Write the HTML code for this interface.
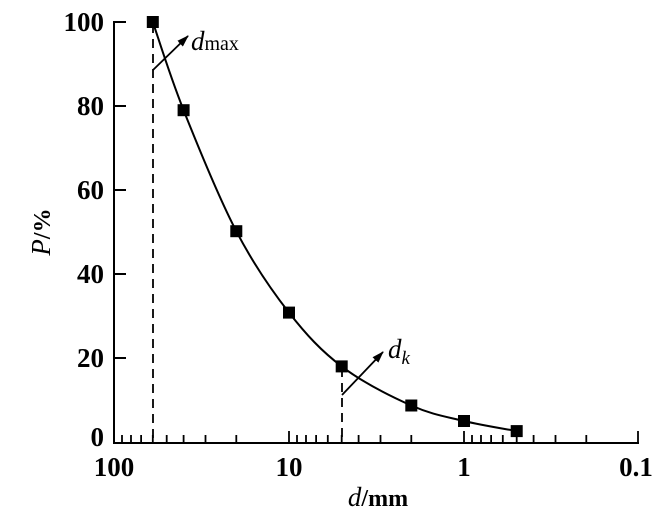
<!DOCTYPE html>
<html><head><meta charset="utf-8"><style>body{margin:0;background:#fff}svg{display:block}text{font-family:"Liberation Serif",serif;fill:#000}</style></head><body>
<svg width="670" height="519" viewBox="0 0 670 519">
<defs><marker id="ar" markerWidth="12" markerHeight="8" refX="11" refY="4" orient="auto" markerUnits="userSpaceOnUse"><path d="M0,0 L12,4 L0,8 z" fill="#000"/></marker></defs>
<g stroke="#000" stroke-width="2" fill="none">
<line x1="114" y1="21" x2="114" y2="443"/>
<line x1="113" y1="443" x2="639" y2="443"/>
<line x1="114" y1="22" x2="126" y2="22"/><line x1="114" y1="106" x2="126" y2="106"/><line x1="114" y1="190" x2="126" y2="190"/><line x1="114" y1="274" x2="126" y2="274"/><line x1="114" y1="358" x2="126" y2="358"/>
</g>
<g stroke="#000" stroke-width="1.8">
<line x1="122" y1="443" x2="122" y2="435"/><line x1="131" y1="443" x2="131" y2="435"/><line x1="141.1" y1="443" x2="141.1" y2="435"/><line x1="152.8" y1="443" x2="152.8" y2="435"/><line x1="166.7" y1="443" x2="166.7" y2="435"/><line x1="183.6" y1="443" x2="183.6" y2="435"/><line x1="205.5" y1="443" x2="205.5" y2="435"/><line x1="236.3" y1="443" x2="236.3" y2="435"/><line x1="289" y1="443" x2="289" y2="431"/>
<line x1="297" y1="443" x2="297" y2="435"/><line x1="306" y1="443" x2="306" y2="435"/><line x1="316.1" y1="443" x2="316.1" y2="435"/><line x1="327.8" y1="443" x2="327.8" y2="435"/><line x1="341.7" y1="443" x2="341.7" y2="435"/><line x1="358.6" y1="443" x2="358.6" y2="435"/><line x1="380.5" y1="443" x2="380.5" y2="435"/><line x1="411.3" y1="443" x2="411.3" y2="435"/><line x1="464" y1="443" x2="464" y2="431"/>
<line x1="472" y1="443" x2="472" y2="435"/><line x1="481" y1="443" x2="481" y2="435"/><line x1="491.1" y1="443" x2="491.1" y2="435"/><line x1="502.8" y1="443" x2="502.8" y2="435"/><line x1="516.7" y1="443" x2="516.7" y2="435"/><line x1="533.6" y1="443" x2="533.6" y2="435"/><line x1="555.5" y1="443" x2="555.5" y2="435"/><line x1="586.3" y1="443" x2="586.3" y2="435"/><line x1="638" y1="443" x2="638" y2="431"/>
</g>
<g stroke="#000" stroke-width="1.8" stroke-dasharray="9,6" fill="none">
<line x1="153" y1="24" x2="153" y2="443"/>
<line x1="342" y1="368" x2="342" y2="443"/>
</g>
<path stroke="#000" stroke-width="2" fill="none" d="M152.8,22 C157.9,36.7 169.7,75.3 183.6,110.2 C197.5,145.1 218.7,197.5 236.3,231.2 C253.9,264.9 271.4,290.1 289,312.6 C306.6,335.1 321.3,350.9 341.7,366.4 C362.1,381.9 390.9,396.4 411.3,405.5 C431.7,414.6 446.4,416.7 464,421 C481.6,425.3 507.9,429.4 516.7,431.1"/>
<g fill="#000">
<rect x="146.8" y="16" width="12" height="12"/><rect x="177.6" y="104.2" width="12" height="12"/><rect x="230.3" y="225.2" width="12" height="12"/><rect x="283" y="306.6" width="12" height="12"/><rect x="335.7" y="360.4" width="12" height="12"/><rect x="405.3" y="399.5" width="12" height="12"/><rect x="458" y="415" width="12" height="12"/><rect x="510.7" y="425.1" width="12" height="12"/>
</g>
<line x1="153" y1="70" x2="188" y2="36" stroke="#000" stroke-width="1.8" marker-end="url(#ar)"/>
<line x1="342" y1="395" x2="383" y2="352" stroke="#000" stroke-width="1.8" marker-end="url(#ar)"/>
<text x="191" y="50" font-size="27" font-style="italic">d<tspan font-size="20" font-style="normal">max</tspan></text>
<text x="388" y="358" font-size="27" font-style="italic">d<tspan font-size="19" dy="6">k</tspan></text>
<g font-size="27" font-weight="bold" text-anchor="end">
<text x="104" y="31">100</text><text x="104" y="115">80</text><text x="104" y="199">60</text><text x="104" y="283">40</text><text x="104" y="367">20</text><text x="104" y="446">0</text>
</g>
<g font-size="27" font-weight="bold" text-anchor="middle">
<text x="114" y="476">100</text><text x="289" y="476">10</text><text x="464" y="476">1</text><text x="636" y="476">0.1</text>
</g>
<text x="378" y="506" font-size="27" text-anchor="middle"><tspan font-style="italic">d</tspan><tspan font-weight="bold" font-size="24">/mm</tspan></text>
<text transform="translate(50,232) rotate(-90)" font-size="27" text-anchor="middle"><tspan font-style="italic">P</tspan><tspan font-weight="bold" font-size="24">/%</tspan></text>
</svg>
</body></html>
